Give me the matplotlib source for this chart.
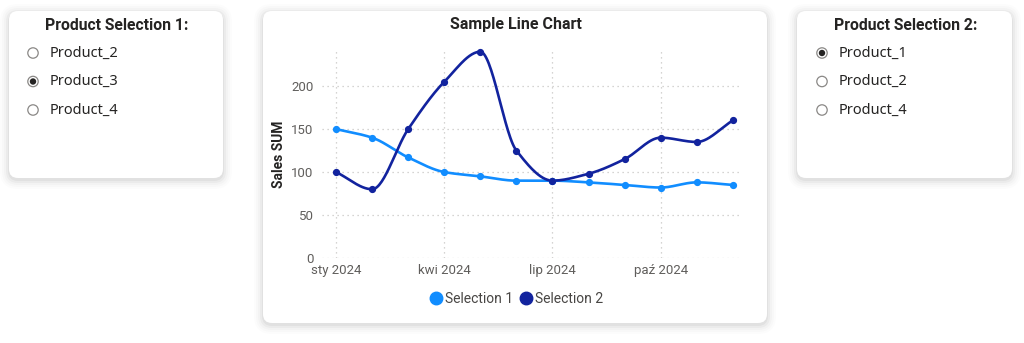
import matplotlib.pyplot as plt
import numpy as np
from matplotlib.patches import FancyBboxPatch, Circle
from matplotlib.lines import Line2D

# Monthly sales for the two selected products
months = ["sty", "lut", "mar", "kwi", "maj", "cze", "lip", "sie", "wrz", "paź", "lis", "gru"]
selection_1 = [150, 140, 117, 100, 95, 90, 90, 88, 85, 82, 88, 85]
selection_2 = [100, 80, 150, 205, 240, 125, 90, 98, 115, 140, 135, 160]
tick_months = [0, 3, 6, 9]
y_ticks = [0, 50, 100, 150, 200]

slicer_1_items = ["Product_2", "Product_3", "Product_4"]
slicer_1_checked = "Product_3"
slicer_2_items = ["Product_1", "Product_2", "Product_4"]
slicer_2_checked = "Product_1"

LIGHT = "#118DFF"
DARK = "#12239E"
GREY = "#605E5C"
INK = "#252423"


def monotone_curve(y, steps=30):
    # monotone cubic (Fritsch-Carlson) through equally spaced points
    y = np.asarray(y, dtype=float)
    n = len(y)
    d = np.diff(y)
    m = np.zeros(n)
    m[0], m[-1] = d[0], d[-1]
    for i in range(1, n - 1):
        if d[i - 1] * d[i] > 0:
            m[i] = 2 * d[i - 1] * d[i] / (d[i - 1] + d[i])
    xs, ys = [], []
    for i in range(n - 1):
        t = np.linspace(0, 1, steps, endpoint=(i == n - 2))
        h00 = 2 * t**3 - 3 * t**2 + 1
        h10 = t**3 - 2 * t**2 + t
        h01 = -2 * t**3 + 3 * t**2
        h11 = t**3 - t**2
        xs.append(i + t)
        ys.append(h00 * y[i] + h10 * m[i] + h01 * y[i + 1] + h11 * m[i + 1])
    return np.concatenate(xs), np.concatenate(ys)


W, H = 1024, 343
fig = plt.figure(figsize=(W / 100, H / 100), dpi=100)
fig.patch.set_facecolor("white")

# pixel-space canvas for cards and slicers
bg = fig.add_axes([0, 0, 1, 1])
bg.set_xlim(0, W)
bg.set_ylim(H, 0)
bg.axis("off")


def card(x0, y0, x1, y1):
    for k, a in [(9, 0.012), (7, 0.015), (5, 0.02), (3, 0.03), (1, 0.04)]:
        bg.add_patch(FancyBboxPatch((x0 - k, y0 - k + 2), x1 - x0 + 2 * k, y1 - y0 + 2 * k,
                                    boxstyle="round,pad=0,rounding_size=%d" % (9 + k),
                                    fc="black", ec="none", alpha=a))
    bg.add_patch(FancyBboxPatch((x0, y0), x1 - x0, y1 - y0,
                                boxstyle="round,pad=0,rounding_size=9",
                                fc="white", ec="none"))


card(9, 11, 223, 178)
card(263, 11, 767, 323)
card(797, 11, 1012, 178)


def slicer(cx, title, items, checked, rx, tx):
    bg.text(cx, 26, title, ha="center", va="center", fontsize=11.3,
            fontweight="bold", family="Roboto", color=INK)
    for i, item in enumerate(items):
        y = 53 + i * 28.5
        bg.add_patch(Circle((rx, y), 5.2, fc="white", ec="#8a8886", lw=0.9))
        if item == checked:
            bg.add_patch(Circle((rx, y), 3.2, fc=INK, ec="none"))
        bg.text(tx, y, item, ha="left", va="center", fontsize=10.5,
                family="Noto Sans", color=INK)


slicer(117, "Product Selection 1:", slicer_1_items, slicer_1_checked, 33, 50)
slicer(906, "Product Selection 2:", slicer_2_items, slicer_2_checked, 822, 839)

# line chart
left, right, top, bottom = 322, 740, 50, 258
ax = fig.add_axes([left / W, (H - bottom) / H, (right - left) / W, (bottom - top) / H])
ax.set_facecolor("none")
x = np.arange(len(months))
for vals, col in [(selection_1, LIGHT), (selection_2, DARK)]:
    cx, cy = monotone_curve(vals)
    ax.plot(cx, cy, color=col, lw=1.9, zorder=3, clip_on=False)
    ax.plot(x, vals, "o", color=col, ms=4.2, zorder=4, clip_on=False)

ax.set_xlim(-0.39, 11.2)
ax.set_ylim(0, 242)
ax.set_yticks(y_ticks)
ax.set_xticks(tick_months)
ax.set_xticklabels([months[i] + " 2024" for i in tick_months])
ax.grid(True, color="#c8c6c4", linestyle=(0, (1, 3)), lw=0.9)
for s in ax.spines.values():
    s.set_visible(False)
ax.tick_params(length=0, labelsize=9.5, labelcolor=GREY, pad=6)
for lab in ax.get_xticklabels() + ax.get_yticklabels():
    lab.set_family("Roboto")
ax.tick_params(axis="x", pad=4)
ax.set_ylabel("Sales SUM", fontsize=10, fontweight="bold", family="Roboto",
              color=INK, labelpad=4)

fig.text(516 / W, 1 - 25 / H, "Sample Line Chart", ha="center", va="center",
         fontsize=11.5, fontweight="bold", family="Roboto", color=INK)

# legend
handles = [Line2D([], [], marker="o", ls="", color=LIGHT, ms=9),
           Line2D([], [], marker="o", ls="", color=DARK, ms=9)]
leg = fig.legend(handles, ["Selection 1", "Selection 2"], loc="center",
                 bbox_to_anchor=(516 / W, 1 - 299 / H), ncol=2, frameon=False,
                 handletextpad=0.15, columnspacing=0.4, handlelength=1.0,
                 prop={"family": "Roboto", "size": 10})
for t in leg.get_texts():
    t.set_color("#484644")

fig.savefig("out.png", dpi=100)
